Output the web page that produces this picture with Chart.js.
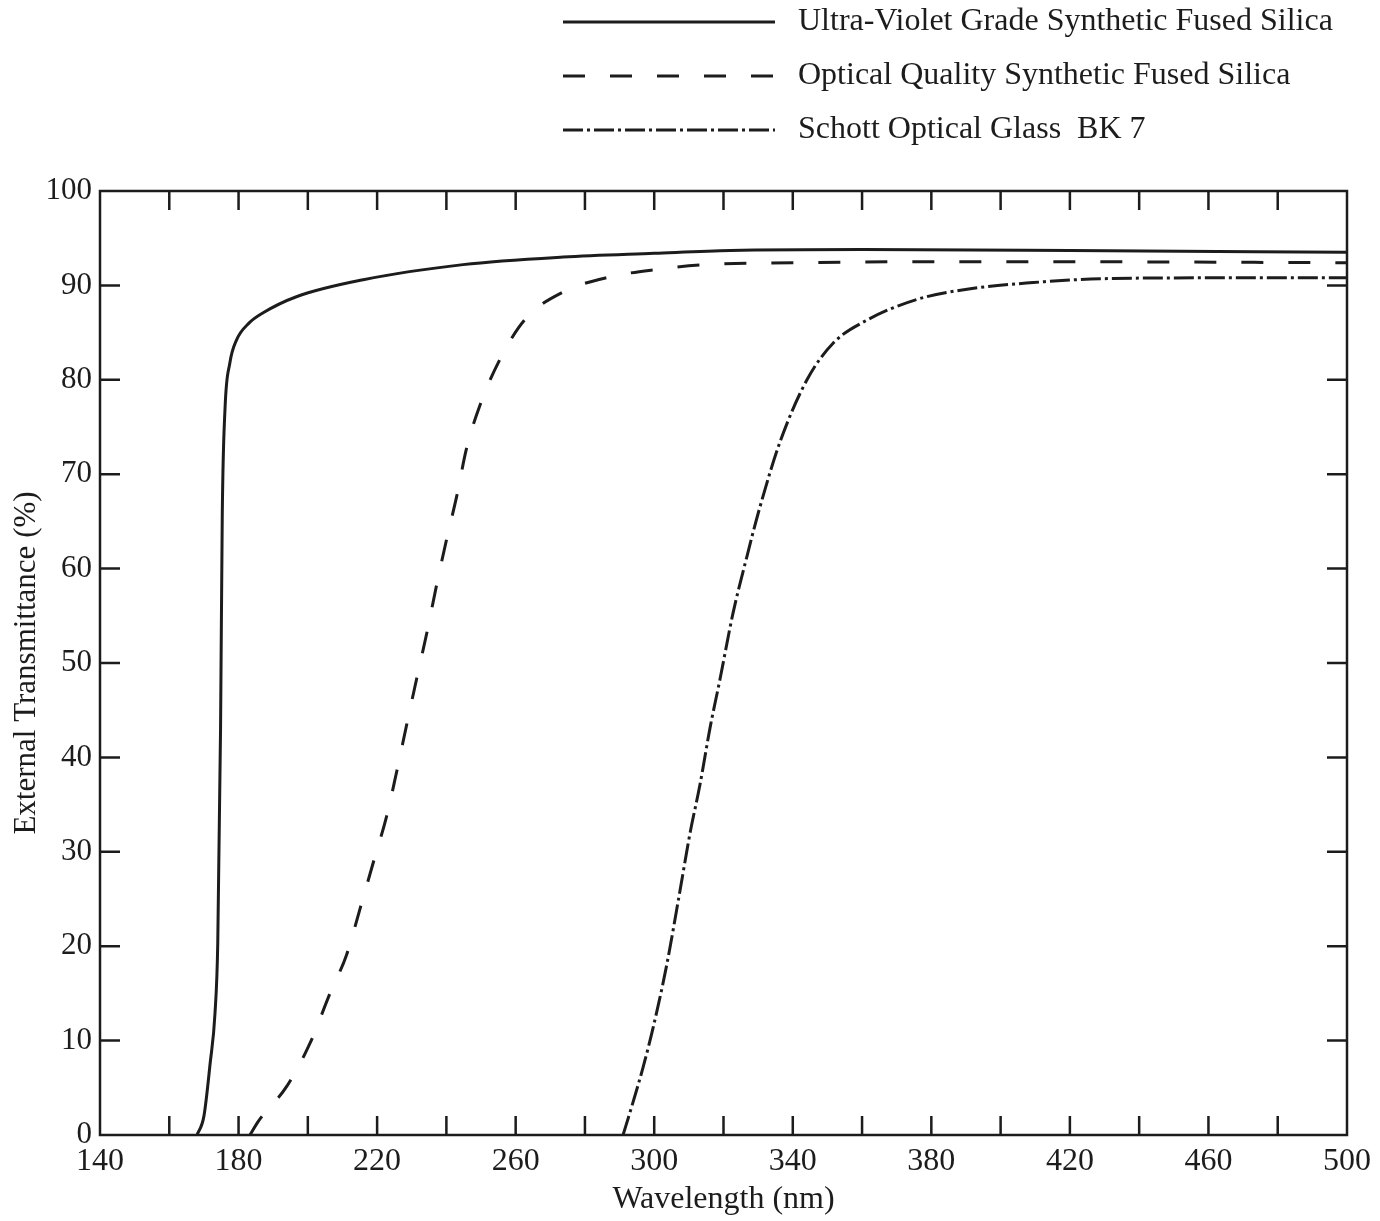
<!DOCTYPE html>
<html>
<head>
<meta charset="utf-8">
<script src="https://cdn.jsdelivr.net/npm/chart.js@4"></script>
<style>
  html, body { margin: 0; padding: 0; background: #fff; }
  #wrap { width: 1380px; height: 1221px; }
</style>
</head>
<body>
<div id="wrap"><canvas id="transChart" width="1380" height="1221"></canvas></div>
<script>
// transmittance curves, wavelength (nm) vs external transmittance (%)
var uvWave = [168, 170, 171.8, 173.2, 174, 174.8, 175.3, 176.1, 177.5, 179.4, 183, 187.1, 196.7, 216, 244.8, 273.7, 300, 322, 360, 420, 500];
var uvTrans = [0, 2, 7.6, 12.9, 20.4, 43, 65.8, 77, 81.8, 84.2, 86, 87.1, 88.8, 90.6, 92.2, 93, 93.4, 93.7, 93.8, 93.7, 93.5];

var oqWave = [183.3, 185.6, 194, 200.6, 206.4, 211.2, 215.1, 219, 222.7, 225.6, 228.5, 231.4, 234.3, 237.2, 240, 243, 245.8, 249.7, 255.5, 262.7, 273.7, 287.2, 301, 315, 340, 371, 420, 500];
var oqTrans = [0, 1.4, 5.2, 9.7, 15, 19.1, 24, 29, 33.7, 38.4, 43.4, 48.3, 53.1, 58.3, 63, 67.7, 72.7, 77.3, 82.2, 86.4, 89.3, 90.9, 91.7, 92.2, 92.4, 92.5, 92.5, 92.4];

var bkWave = [291, 293.5, 296.8, 299.7, 303.6, 307.4, 310.3, 313.2, 316.1, 319, 322.7, 326.7, 330.5, 336.4, 344.1, 351.7, 361.3, 375.7, 390.3, 409.4, 428.7, 460, 500];
var bkTrans = [0, 3, 7.2, 11.4, 18, 25.8, 31.9, 37.1, 43.1, 48.3, 55.2, 61.2, 66.5, 73.5, 80, 83.9, 86.3, 88.5, 89.6, 90.3, 90.7, 90.8, 90.8];

var seriesNames = ['Ultra-Violet Grade Synthetic Fused Silica', 'Optical Quality Synthetic Fused Silica', 'Schott Optical Glass  BK 7'];
var seriesDash = [[], [22, 25], [20, 4, 3, 4]];

var xMin = 140, xMax = 500, xStep = 20, xLabelStep = 40;
var yMin = 0, yMax = 100, yStep = 10;

var ink = '#1c1c1c';
var serif = '"Liberation Serif", "Times New Roman", serif';

function pairs(xs, ys) {
  var out = [];
  for (var i = 0; i < xs.length; i++) out.push({x: xs[i], y: ys[i]});
  return out;
}

function makeSet(i, xs, ys) {
  return {
    label: seriesNames[i],
    data: pairs(xs, ys),
    borderColor: ink,
    borderWidth: 3,
    borderDash: seriesDash[i],
    pointRadius: 0,
    fill: false,
    cubicInterpolationMode: 'monotone'
  };
}

// frame on all four sides with inward ticks, plus the legend block at top right
var framePlugin = {
  id: 'frame',
  afterDraw: function(chart) {
    var ctx = chart.ctx, a = chart.chartArea;
    var xs = chart.scales.x, ys = chart.scales.y;
    ctx.save();
    ctx.strokeStyle = ink;
    ctx.lineWidth = 2.5;
    ctx.strokeRect(a.left, a.top, a.right - a.left, a.bottom - a.top);
    ctx.beginPath();
    xs.ticks.forEach(function(t) {
      if (t.value <= xMin || t.value >= xMax) return;
      var px = xs.getPixelForValue(t.value);
      ctx.moveTo(px, a.bottom); ctx.lineTo(px, a.bottom - 19);
      ctx.moveTo(px, a.top); ctx.lineTo(px, a.top + 19);
    });
    ys.ticks.forEach(function(t) {
      if (t.value <= yMin || t.value >= yMax) return;
      var py = ys.getPixelForValue(t.value);
      ctx.moveTo(a.left, py); ctx.lineTo(a.left + 20, py);
      ctx.moveTo(a.right, py); ctx.lineTo(a.right - 20, py);
    });
    ctx.stroke();

    // legend
    var rowY = [22, 76, 130];
    ctx.font = '32px ' + serif;
    ctx.fillStyle = ink;
    ctx.textBaseline = 'middle';
    chart.data.datasets.forEach(function(ds, i) {
      ctx.beginPath();
      ctx.lineWidth = 3;
      ctx.setLineDash(ds.borderDash);
      ctx.moveTo(563, rowY[i]);
      ctx.lineTo(775, rowY[i]);
      ctx.stroke();
      ctx.setLineDash([]);
      ctx.fillText(ds.label, 798, rowY[i]);
    });
    ctx.restore();
  }
};

var ctx = document.getElementById('transChart').getContext('2d');
var chart = new Chart(ctx, {
  type: 'line',
  data: {
    datasets: [
      makeSet(0, uvWave, uvTrans),
      makeSet(1, oqWave, oqTrans),
      makeSet(2, bkWave, bkTrans)
    ]
  },
  options: {
    responsive: false,
    animation: false,
    layout: { padding: { top: 191, right: 33, left: 0, bottom: 0 } },
    plugins: { legend: { display: false }, tooltip: { enabled: false } },
    scales: {
      x: {
        type: 'linear',
        min: xMin, max: xMax,
        grid: { display: false, drawTicks: false },
        border: { display: false },
        ticks: {
          stepSize: xStep,
          autoSkip: false,
          maxRotation: 0,
          padding: 7,
          color: ink,
          font: { family: serif, size: 32 },
          callback: function(v) { return (v - xMin) % xLabelStep === 0 ? v : ''; }
        },
        title: {
          display: true,
          text: 'Wavelength (nm)',
          color: ink,
          font: { family: serif, size: 32 },
          padding: { top: 0, bottom: 2 }
        },
        afterFit: function(s) { s.height = 86; }
      },
      y: {
        min: yMin, max: yMax,
        grid: { display: false, drawTicks: false },
        border: { display: false },
        ticks: {
          stepSize: yStep,
          padding: 8,
          color: ink,
          font: { family: serif, size: 31 }
        },
        title: {
          display: true,
          text: 'External Transmittance (%)',
          color: ink,
          font: { family: serif, size: 31 },
          padding: { top: 8, bottom: 0 }
        },
        afterFit: function(s) { s.width = 100; }
      }
    }
  },
  plugins: [framePlugin]
});
</script>
</body>
</html>
